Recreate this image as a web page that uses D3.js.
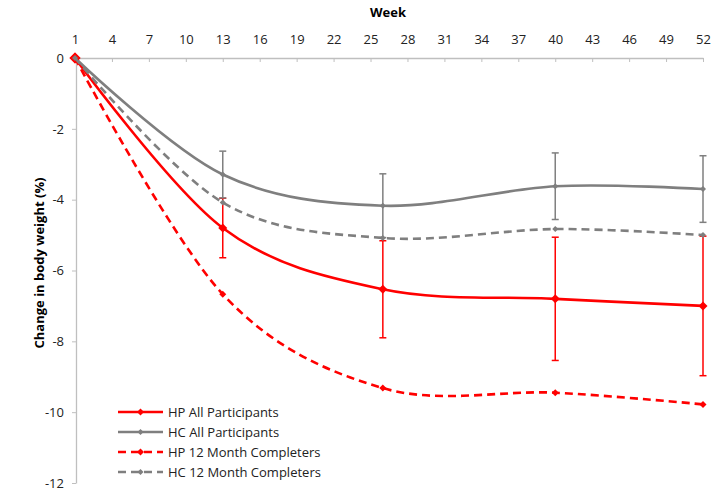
<!DOCTYPE html>
<html>
<head>
<meta charset="utf-8">
<script src="https://cdn.jsdelivr.net/npm/d3@7"></script>
<style>
  body { margin: 0; background: #fff; }
  svg { display: block; font-family: "Open Sans", "Liberation Sans", sans-serif; }
</style>
</head>
<body>
<div id="chart"></div>
<script>
// Data

const weeks = [1, 13, 26, 40, 52];                       // measurement weeks
const xTicks = d3.range(1, 53, 3);                       // 1, 4, 7 ... 52
const yTicks = [0, -2, -4, -6, -8, -10, -12];

const hpAll    = [0, -4.80, -6.53, -6.80, -7.00];
const hpAllErr = [0, 0.84, 1.37, 1.74, 1.97];
const hcAll    = [0, -3.29, -4.17, -3.62, -3.70];
const hcAllErr = [0, 0.66, 0.90, 0.94, 0.94];
const hp12     = [0, -6.67, -9.32, -9.45, -9.78];
const hc12     = [0, -4.08, -5.08, -4.83, -5.00];

const seriesNames = ["HP All Participants", "HC All Participants", "HP 12 Month Completers", "HC 12 Month Completers"];

const RED = "#ff0000", GREY = "#7f7f7f";

const series = [
    {name: seriesNames[0], values: hpAll, err: hpAllErr, color: RED,  dash: null,  size: 9},
    {name: seriesNames[1], values: hcAll, err: hcAllErr, color: GREY, dash: null,  size: 6},
    {name: seriesNames[2], values: hp12,  err: null,     color: RED,  dash: "8,5", size: 7},
    {name: seriesNames[3], values: hc12,  err: null,     color: GREY, dash: "8,5", size: 6}
];

// Chart setup

const width = 714, height = 495;
const margin = {top: 58, right: 11, bottom: 12, left: 75};

const svg = d3.select("#chart").append("svg")
    .attr("width", width)
    .attr("height", height);

const x = d3.scaleLinear().domain([1, 52]).range([margin.left, width - margin.right]);
const y = d3.scaleLinear().domain([-12, 0]).range([height - margin.bottom, margin.top]);

// Axes (plain hyphen for negatives, like the original)

const xAxis = svg.append("g")
    .attr("transform", "translate(0," + y(0) + ")")
    .call(d3.axisTop(x).tickValues(xTicks).tickSizeInner(-4).tickSizeOuter(0).tickPadding(14));
xAxis.select(".domain").attr("stroke", "#bfbfbf").attr("stroke-width", 1.3);
xAxis.selectAll(".tick line").attr("stroke", "#bfbfbf");
xAxis.selectAll(".tick text").attr("font-size", 13).attr("fill", "#222")
    .attr("font-family", "Open Sans, sans-serif");

const yAxis = svg.append("g")
    .attr("transform", "translate(" + (x(1) + 1) + ",0)")
    .call(d3.axisLeft(y).tickValues(yTicks).tickFormat(d => String(d)).tickSizeInner(4).tickSizeOuter(0).tickPadding(8));
yAxis.select(".domain").attr("stroke", "#bfbfbf").attr("stroke-width", 1.3);
yAxis.selectAll(".tick line").attr("stroke", "#bfbfbf");
yAxis.selectAll(".tick text").attr("font-size", 13).attr("fill", "#222")
    .attr("font-family", "Open Sans, sans-serif");

// Axis titles

svg.append("text")
    .attr("x", 388).attr("y", 17)
    .attr("text-anchor", "middle")
    .attr("font-size", 13).attr("font-weight", "bold")
    .text("Week");

svg.append("text")
    .attr("transform", "translate(44,263) rotate(-90)")
    .attr("text-anchor", "middle")
    .attr("font-size", 13).attr("font-weight", "bold")
    .text("Change in body weight (%)");

// Lines, error bars and markers

const line = d3.line()
    .x((d, i) => x(weeks[i]))
    .y(d => y(d))
    .curve(d3.curveCardinal.tension(0));

const diamond = (size) => "M0," + (-size / 2) + "L" + (size / 2) + ",0L0," + (size / 2) + "L" + (-size / 2) + ",0Z";

series.forEach(s => {
    const g = svg.append("g");

    g.append("path")
        .datum(s.values)
        .attr("d", line)
        .attr("fill", "none")
        .attr("stroke", s.color)
        .attr("stroke-width", 2.6)
        .attr("stroke-dasharray", s.dash);

    if (s.err) {
        const eb = g.selectAll(".err")
            .data(s.values.map((v, i) => ({w: weeks[i], v: v, e: s.err[i]})).filter(d => d.e > 0))
            .enter().append("g");
        eb.append("line")
            .attr("x1", d => x(d.w)).attr("x2", d => x(d.w))
            .attr("y1", d => y(d.v + d.e)).attr("y2", d => y(d.v - d.e))
            .attr("stroke", s.color).attr("stroke-width", 1.5);
        eb.selectAll(".cap")
            .data(d => [d.v + d.e, d.v - d.e].map(c => ({w: d.w, c: c})))
            .enter().append("line")
            .attr("x1", d => x(d.w) - 3.5).attr("x2", d => x(d.w) + 3.5)
            .attr("y1", d => y(d.c)).attr("y2", d => y(d.c))
            .attr("stroke", s.color).attr("stroke-width", 1.5);
    }

    g.selectAll(".marker")
        .data(s.values)
        .enter().append("path")
        .attr("d", (d, i) => diamond(i === 0 && s.color === RED ? 11 : s.size))
        .attr("transform", (d, i) => "translate(" + x(weeks[i]) + "," + y(d) + ")")
        .attr("fill", s.color);
});

// Legend

const legend = svg.append("g").attr("transform", "translate(118,412)");
const rows = legend.selectAll("g")
    .data(series)
    .enter().append("g")
    .attr("transform", (d, i) => "translate(0," + (i * 20) + ")");
rows.append("line")
    .attr("x1", 0).attr("x2", 45)
    .attr("stroke", d => d.color)
    .attr("stroke-width", 2.6)
    .attr("stroke-dasharray", d => d.dash);
rows.append("path")
    .attr("d", d => diamond(Math.min(d.size, 7)))
    .attr("transform", "translate(22.5,0)")
    .attr("fill", d => d.color);
rows.append("text")
    .attr("x", 50).attr("dy", "0.35em")
    .attr("font-size", 13).attr("fill", "#222")
    .text(d => d.name);
</script>
</body>
</html>
